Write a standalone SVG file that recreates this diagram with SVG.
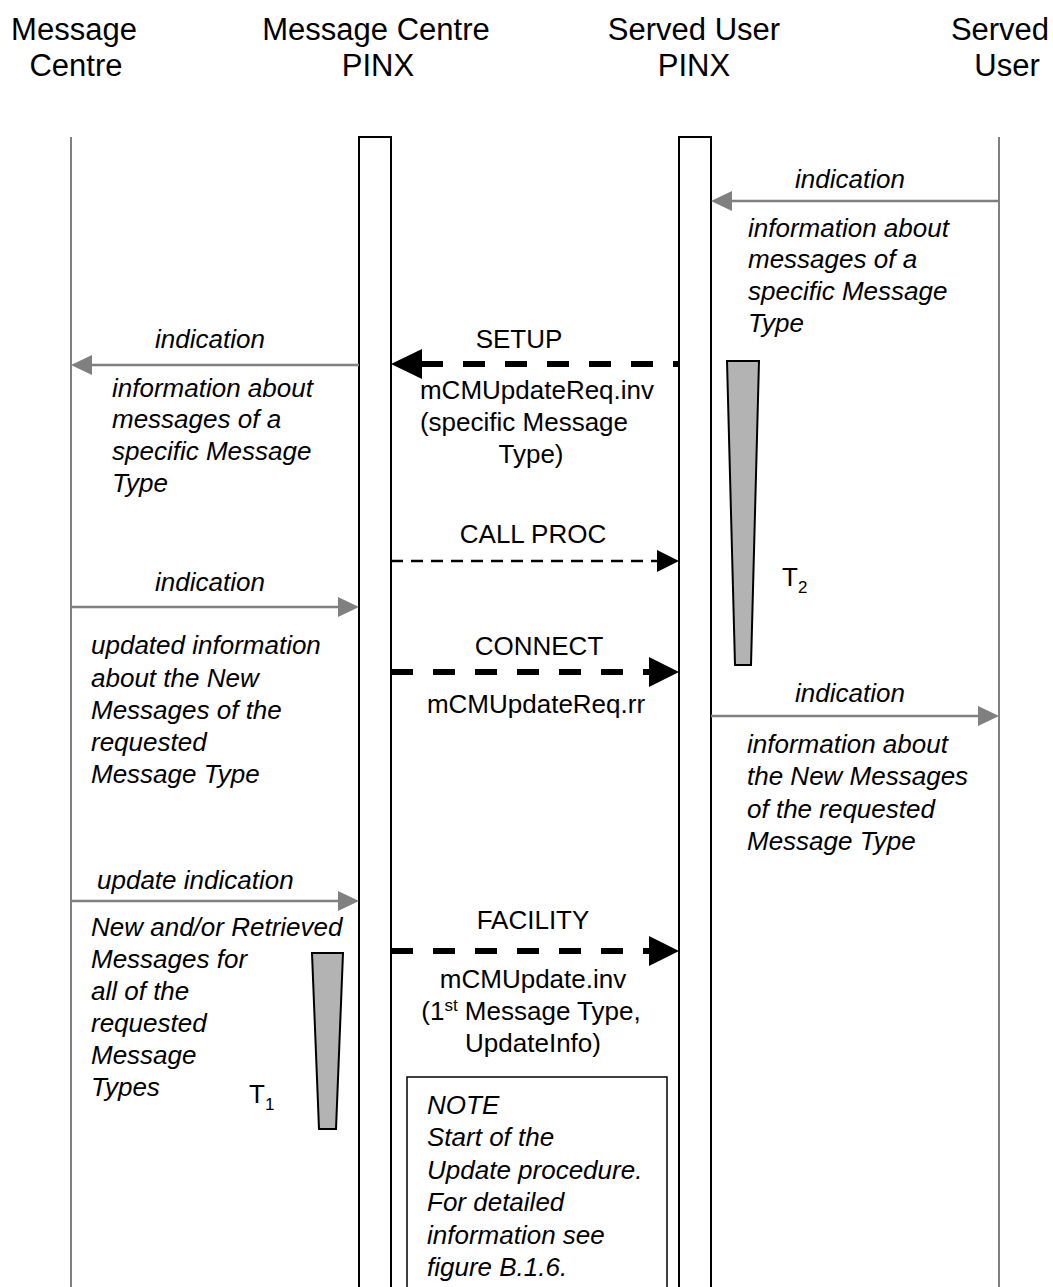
<svg xmlns="http://www.w3.org/2000/svg" width="1053" height="1287" viewBox="0 0 1053 1287">
<style>
text{font-family:"Liberation Sans",Arial,sans-serif;font-size:26px;fill:#000}
.h{font-size:31px;text-anchor:middle}
.i{font-style:italic}
.m{text-anchor:middle}
.life{stroke:#808080;stroke-width:2;fill:none}
.box{stroke:#000;stroke-width:2;fill:#fff}
.ga{stroke:#808080;stroke-width:2.5;fill:none}
.thick{stroke:#000;stroke-width:6;stroke-dasharray:22 20;fill:none}
.thin{stroke:#000;stroke-width:2.5;stroke-dasharray:12 8;fill:none}
.gh{fill:#808080}
.bh{fill:#000}
.timer{fill:#b3b3b3;stroke:#000;stroke-width:2}
.note{fill:#fff;stroke:#000;stroke-width:1.5}
</style>
<g id="mc">
<text class="h" x="74" y="40">Message</text>
<text class="h" x="76" y="76">Centre</text>
<line class="life" x1="71" y1="137" x2="71" y2="1287"/>
</g>
<g id="mcpinx">
<text class="h" x="376" y="40">Message Centre</text>
<text class="h" x="378" y="76">PINX</text>
<rect class="box" x="359" y="137" width="32" height="1170"/>
</g>
<g id="supinx">
<text class="h" x="694" y="40">Served User</text>
<text class="h" x="694" y="76">PINX</text>
<rect class="box" x="679" y="137" width="32" height="1170"/>
</g>
<g id="su">
<text class="h" x="1000" y="40">Served</text>
<text class="h" x="1007" y="76">User</text>
<line class="life" x1="999" y1="137" x2="999" y2="1287"/>
</g>
<g id="timer2">
<polygon class="timer" points="727,361 759,361 751,665 735,665"/>
<text x="782" y="586">T<tspan font-size="17" dy="7">2</tspan></text>
</g>
<g id="timer1">
<polygon class="timer" points="312,953 343,953 336,1129 319,1129"/>
<text x="249" y="1103">T<tspan font-size="17" dy="7">1</tspan></text>
</g>
<g id="note">
<rect class="note" x="407" y="1077" width="260" height="230"/>
<text class="i" x="427" y="1114">NOTE</text>
<text class="i" x="427" y="1146">Start of the</text>
<text class="i" x="427" y="1179">Update procedure.</text>
<text class="i" x="427" y="1211">For detailed</text>
<text class="i" x="427" y="1244">information see</text>
<text class="i" x="427" y="1276">figure B.1.6.</text>
</g>
<g id="connectors">
<line class="ga" x1="999" y1="201" x2="731" y2="201"/>
<polygon class="gh" points="711,201 732,191 732,211"/>
<line class="thick" x1="679" y1="364" x2="420" y2="364" stroke-dashoffset="16"/>
<polygon class="bh" points="391,364 422,349 422,379"/>
<line class="ga" x1="359" y1="365" x2="91" y2="365"/>
<polygon class="gh" points="71,365 92,355 92,375"/>
<line class="thin" x1="391" y1="561" x2="660" y2="561"/>
<polygon class="bh" points="679,561 657,550 657,572"/>
<line class="ga" x1="71" y1="607" x2="339" y2="607"/>
<polygon class="gh" points="359,607 338,597 338,617"/>
<line class="thick" x1="391" y1="672" x2="652" y2="672"/>
<polygon class="bh" points="679,672 649,657 649,687"/>
<line class="ga" x1="711" y1="716" x2="979" y2="716"/>
<polygon class="gh" points="999,716 978,706 978,726"/>
<line class="ga" x1="71" y1="901" x2="339" y2="901"/>
<polygon class="gh" points="359,901 338,891 338,911"/>
<line class="thick" x1="391" y1="951" x2="652" y2="951"/>
<polygon class="bh" points="679,951 649,936 649,966"/>
</g>
<g id="labels">
<text class="i" x="795" y="188">indication</text>
<text class="i" x="748" y="237">information about</text>
<text class="i" x="748" y="268">messages of a</text>
<text class="i" x="748" y="300">specific Message</text>
<text class="i" x="748" y="332">Type</text>

<text class="m" x="519" y="348">SETUP</text>
<text class="m" x="537" y="399">mCMUpdateReq.inv</text>
<text class="m" x="524" y="431">(specific Message</text>
<text class="m" x="531" y="463">Type)</text>

<text class="i" x="155" y="348">indication</text>
<text class="i" x="112" y="397">information about</text>
<text class="i" x="112" y="428">messages of a</text>
<text class="i" x="112" y="460">specific Message</text>
<text class="i" x="112" y="492">Type</text>

<text class="m" x="533" y="543">CALL PROC</text>

<text class="i" x="155" y="591">indication</text>
<text class="i" x="91" y="654">updated information</text>
<text class="i" x="91" y="687">about the New</text>
<text class="i" x="91" y="719">Messages of the</text>
<text class="i" x="91" y="751">requested</text>
<text class="i" x="91" y="783">Message Type</text>

<text class="m" x="539" y="655">CONNECT</text>
<text class="m" x="536" y="713">mCMUpdateReq.rr</text>

<text class="i" x="795" y="702">indication</text>
<text class="i" x="747" y="753">information about</text>
<text class="i" x="747" y="785">the New Messages</text>
<text class="i" x="747" y="818">of the requested</text>
<text class="i" x="747" y="850">Message Type</text>

<text class="i" x="97" y="889">update indication</text>
<text class="i" x="91" y="936">New and/or Retrieved</text>
<text class="i" x="91" y="968">Messages for</text>
<text class="i" x="91" y="1000">all of the</text>
<text class="i" x="91" y="1032">requested</text>
<text class="i" x="91" y="1064">Message</text>
<text class="i" x="91" y="1096">Types</text>

<text class="m" x="533" y="929">FACILITY</text>
<text class="m" x="533" y="988">mCMUpdate.inv</text>
<text class="m" x="531" y="1020">(1<tspan font-size="17" dy="-9">st</tspan><tspan dy="9"> Message Type,</tspan></text>
<text class="m" x="533" y="1052">UpdateInfo)</text>
</g>
</svg>
